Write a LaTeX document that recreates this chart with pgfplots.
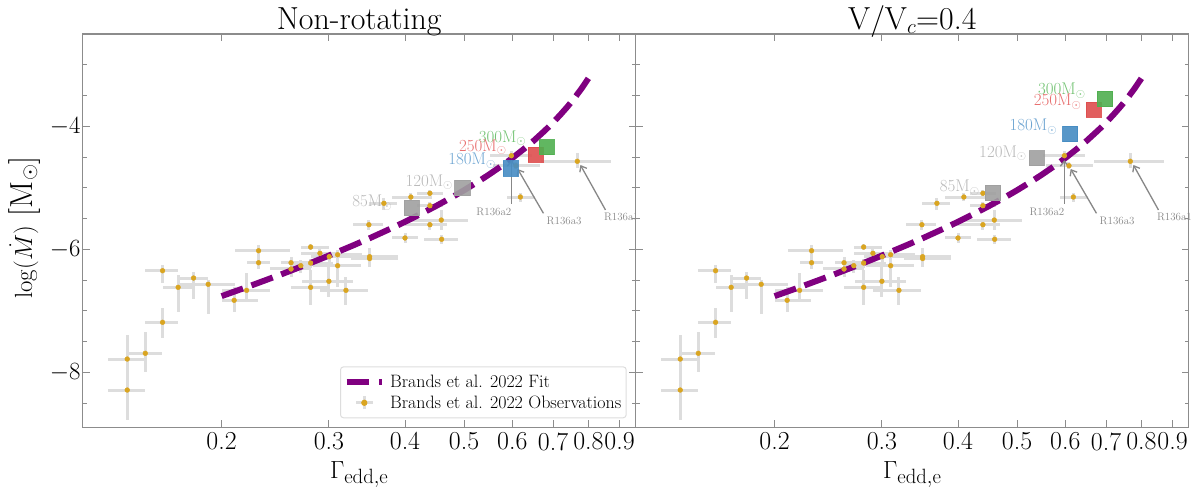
\documentclass[border=0pt]{standalone}
\usepackage{pgfplots}
\pgfplotsset{compat=1.18}
\usepackage{pgfplotstable}
\usetikzlibrary{arrows.meta}

\definecolor{spine}{RGB}{140,140,140}
\definecolor{ebgray}{RGB}{221,221,221}
\definecolor{ptorange}{RGB}{218,165,32}
\definecolor{fitpurple}{RGB}{128,0,128}
\definecolor{sqgray}{RGB}{160,160,160}
\definecolor{sqblue}{RGB}{70,140,195}
\definecolor{sqred}{RGB}{222,78,78}
\definecolor{sqgreen}{RGB}{80,175,80}
\definecolor{lbgray}{RGB}{185,185,185}
\definecolor{lbblue}{RGB}{110,165,210}
\definecolor{lbred}{RGB}{232,110,110}
\definecolor{lbgreen}{RGB}{115,195,115}
\definecolor{annot}{RGB}{135,135,135}

\pgfplotstableread{
x y exp exm eyp eym
0.1400 -8.288 0.0097 0.0098 0.190 0.488
0.1400 -7.784 0.0097 0.0098 0.391 0.341
0.1499 -7.691 0.0099 0.0099 0.351 0.299
0.1600 -7.187 0.0096 0.0101 0.237 0.250
0.1600 -6.348 0.0096 0.0101 0.093 0.195
0.1697 -6.618 0.0102 0.0097 0.200 0.397
0.1799 -6.467 0.0102 0.0102 0.103 0.346
0.1901 -6.569 0.0201 0.0204 0.070 0.483
0.2097 -6.829 0.0200 0.0091 0.221 0.186
0.2198 -6.667 0.0203 0.0192 0.277 0.185
0.2300 -6.023 0.0292 0.0198 0.093 0.097
0.2300 -6.218 0.0101 0.0102 0.118 0.102
0.2600 -6.218 0.0245 0.0092 0.098 0.092
0.2600 -6.320 0.0200 0.0200 0.090 0.130
0.2698 -6.266 0.0102 0.0098 0.100 0.120
0.2800 -5.963 0.0200 0.0102 0.043 0.047
0.2900 -6.065 0.0200 0.0200 0.075 0.135
0.2800 -6.223 0.0250 0.0200 0.073 0.077
0.3004 -6.120 0.0296 0.0204 0.070 0.100
0.3101 -6.088 0.0299 0.0201 0.058 0.062
0.3101 -6.267 0.0282 0.0273 0.257 0.343
0.3000 -6.520 0.0285 0.0294 0.320 0.250
0.2800 -6.618 0.0190 0.0200 0.278 0.292
0.3200 -6.667 0.0279 0.0300 0.221 0.239
0.3499 -6.120 0.0397 0.0237 0.140 0.160
0.3499 -6.150 0.0397 0.0237 0.100 0.120
0.4000 -5.816 0.0196 0.0191 0.076 0.074
0.4594 -5.837 0.0286 0.0297 0.077 0.083
0.3490 -5.600 0.0197 0.0199 0.080 0.080
0.3694 -5.252 0.0184 0.0197 0.086 0.108
0.4090 -5.150 0.0335 0.0287 0.060 0.060
0.4395 -5.089 0.0229 0.0212 0.060 0.060
0.4395 -5.291 0.0229 0.0212 0.060 0.060
0.4395 -5.600 0.0285 0.0392 0.080 0.080
0.4588 -5.524 0.0497 0.0559 0.164 0.166
0.5980 -4.478 0.0477 0.0462 0.078 0.100
0.6085 -4.641 0.0579 0.0496 0.060 0.060
0.6187 -5.150 0.0353 0.0309 0.070 0.080
0.7674 -4.569 0.1026 0.0974 0.129 0.111
}\obs

\pgfplotstableread{
x y
0.20 -6.761
0.22 -6.615
0.25 -6.411
0.28 -6.222
0.30 -6.102
0.33 -5.930
0.35 -5.820
0.38 -5.658
0.40 -5.553
0.43 -5.397
0.45 -5.295
0.48 -5.142
0.50 -5.040
0.53 -4.886
0.55 -4.782
0.58 -4.625
0.60 -4.517
0.63 -4.352
0.65 -4.239
0.68 -4.062
0.70 -3.939
0.72 -3.810
0.74 -3.676
0.76 -3.534
0.78 -3.383
0.79 -3.303
0.80 -3.221
}\fit

\tikzset{
  sqlab/.style={anchor=east, inner sep=0pt, text=#1, font=\fontsize{17}{17}\selectfont},
  rlab/.style={text=annot, font=\fontsize{11}{11}\selectfont, inner sep=0pt},
  arr/.style={draw=annot, line width=1.3bp, -{Straight Barb[length=5bp,width=8bp]}},
}

\newcommand{\annotations}{
  \draw[arr] (axis cs:0.598,-5.26) -- (axis cs:0.598,-4.55);
  \draw[arr] (axis cs:0.6751,-5.415) -- (axis cs:0.6124,-4.694);
  \draw[arr] (axis cs:0.8534,-5.36) -- (axis cs:0.7763,-4.629);
  \node[rlab] at (axis cs:0.5597,-5.388) {R136a2};
  \node[rlab] at (axis cs:0.730,-5.545) {R136a3};
  \node[rlab] at (axis cs:0.9065,-5.480) {R136a1};
}

\begin{document}
\begin{tikzpicture}
\useasboundingbox (0,0) rectangle (1200bp,494bp);

\pgfplotsset{
  every axis/.append style={
    scale only axis, width=553bp, height=393.3bp, anchor=south west,
    xmode=log,
    xmin=0.1183, xmax=0.9567, ymin=-8.894, ymax=-2.499,
    xtick={0.2,0.3,0.4,0.5,0.6,0.7,0.8,0.9},
    xticklabels={0.2,0.3,0.4,0.5,0.6,0.7,0.8,0.9},
    xminorticks=false,
    ytick={-8,-6,-4},
    minor ytick={-8.5,-7.5,-7,-6.5,-5.5,-5,-4.5,-3.5,-3,-2.5},
    tick align=inside,
    major tick length=7bp, minor tick length=4bp,
    axis line style={spine, line width=1.2bp},
    every tick/.style={spine, line width=1bp},
    tick label style={font=\fontsize{26}{26}\selectfont},
    xticklabel style={inner sep=0pt, yshift=-5bp},
    yticklabel style={inner sep=0pt, xshift=-2bp},
  },
  sqmark/.style={forget plot, #1, only marks, mark=square*, mark size=7.6bp,
    mark options={fill=#1, draw=#1, line width=0.8bp, opacity=0.9}},
  ptmark/.style={ptorange, only marks, mark=*, mark size=2.4bp,
    mark options={fill=ptorange, draw=ptorange, line width=0.4bp}},
  ebmark/.style={forget plot, ebgray, only marks, mark=none,
    error bars/.cd, x dir=both, x explicit, y dir=both, y explicit,
    error mark=none, error bar style={ebgray, line width=3bp}},
  fitmark/.style={fitpurple, line width=6bp, dash pattern=on 22.7bp off 9bp},
}

% ---------------- left panel ----------------
\begin{axis}[at={(82.7bp,66.7bp)},
  legend style={at={(1,0)}, anchor=south east, xshift=-9bp, yshift=9bp,
    draw=ebgray, line width=1bp, rounded corners=3bp, fill=white,
    font=\fontsize{18}{18}\selectfont, inner xsep=3bp, inner ysep=6bp, row sep=3bp},
  legend cell align=left]
\addplot[ebmark]
  table[x=x, y=y, x error plus=exp, x error minus=exm, y error plus=eyp, y error minus=eym] {\obs};
\addplot[fitmark,
    legend image code/.code={
      \draw[fitpurple, line width=6bp, solid, dash pattern=on 22.7bp off 10bp] (0bp,0bp) -- (35.6bp,0bp);}]
  table[x=x, y=y] {\fit};
\addlegendentry{\hspace*{3bp}Brands et al. 2022 Fit}
\addplot[ptmark,
    legend image code/.code={
      \draw[ebgray, line width=3bp, solid] (9.5bp,0bp) -- (26.2bp,0bp) (17.8bp,-6.3bp) -- (17.8bp,6.3bp);
      \fill[ptorange] (17.8bp,0bp) circle (2.6bp);}]
  table[x=x, y=y] {\obs};
\addlegendentry{\hspace*{3bp}Brands et al. 2022 Observations}
\addplot[sqmark=sqgray] coordinates {(0.4102,-5.328)};
\addplot[sqmark=sqgray] coordinates {(0.4971,-5.003)};
\addplot[sqmark=sqblue] coordinates {(0.5967,-4.683)};
\addplot[sqmark=sqred] coordinates {(0.6551,-4.461)};
\addplot[sqmark=sqgreen] coordinates {(0.6832,-4.341)};
\node[sqlab=lbgreen] at (axis cs:0.6331,-4.195) {300M$_\odot$};
\node[sqlab=lbred] at (axis cs:0.5879,-4.341) {250M$_\odot$};
\node[sqlab=lbblue] at (axis cs:0.5645,-4.558) {180M$_\odot$};
\node[sqlab=lbgray] at (axis cs:0.4800,-4.911) {120M$_\odot$};
\node[sqlab=lbgray] at (axis cs:0.3814,-5.241) {85M$_\odot$};
\annotations
\end{axis}

% ---------------- right panel ----------------
\begin{axis}[at={(635.7bp,66.7bp)}, yticklabels={},
  axis background/.style={fill=white}, clip=false]
\addplot[ebmark]
  table[x=x, y=y, x error plus=exp, x error minus=exm, y error plus=eyp, y error minus=eym] {\obs};
\addplot[fitmark] table[x=x, y=y] {\fit};
\addplot[ptmark] table[x=x, y=y] {\obs};
\addplot[sqmark=sqgray] coordinates {(0.4567,-5.084)};
\addplot[sqmark=sqgray] coordinates {(0.5384,-4.520)};
\addplot[sqmark=sqblue] coordinates {(0.6113,-4.125)};
\addplot[sqmark=sqred] coordinates {(0.6683,-3.729)};
\addplot[sqmark=sqgreen] coordinates {(0.6970,-3.556)};
\node[sqlab=lbgreen] at (axis cs:0.6486,-3.425) {300M$_\odot$};
\node[sqlab=lbred] at (axis cs:0.6383,-3.599) {250M$_\odot$};
\node[sqlab=lbblue] at (axis cs:0.5823,-4.005) {180M$_\odot$};
\node[sqlab=lbgray] at (axis cs:0.5191,-4.439) {120M$_\odot$};
\node[sqlab=lbgray] at (axis cs:0.4345,-4.997) {85M$_\odot$};
\annotations
\end{axis}

% titles and axis labels
\node[anchor=base, font=\fontsize{32}{32}\selectfont] at (359.2bp,464bp) {Non-rotating};
\node[anchor=base, font=\fontsize{32}{32}\selectfont] at (912.3bp,464bp) {V/V$_c$=0.4};
\node[anchor=base, font=\fontsize{32}{32}\selectfont] at (359.2bp,16bp) {$\Gamma_{\mathrm{edd,e}}$};
\node[anchor=base, font=\fontsize{32}{32}\selectfont] at (912.3bp,16bp) {$\Gamma_{\mathrm{edd,e}}$};
\node[anchor=base, rotate=90, font=\fontsize{32}{32}\selectfont] at (32bp,266.5bp) {$\log(\dot{M})$ [M$_\odot$]};
\end{tikzpicture}
\end{document}
